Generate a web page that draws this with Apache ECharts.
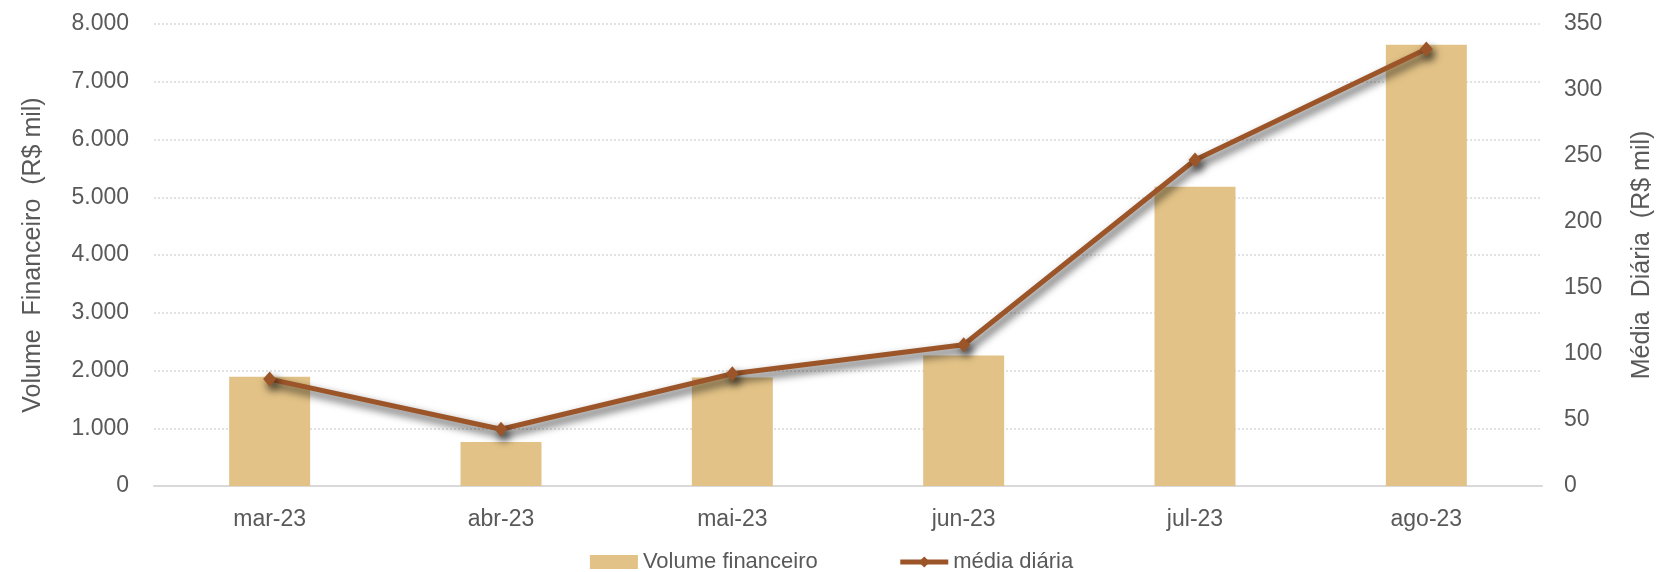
<!DOCTYPE html>
<html>
<head>
<meta charset="utf-8">
<script src="https://cdn.jsdelivr.net/npm/echarts@6/dist/echarts.min.js"></script>
<style>
  html, body { margin: 0; padding: 0; background: #ffffff; }
  #chart { width: 1663px; height: 572px; }
</style>
</head>
<body>
<div id="chart"></div>
<script>
// Monthly categories
const months = ['mar-23', 'abr-23', 'mai-23', 'jun-23', 'jul-23', 'ago-23'];
// Financial volume (R$ mil) — bars, left axis
const volumeFinanceiro = [1890, 760, 1880, 2260, 5180, 7640];
// Daily average (R$ mil) — line, right axis
const mediaDiaria = [81, 43, 85, 107, 247, 331];

// Axis ranges and steps
const leftAxis = { min: 0, max: 8000, interval: 1000 };
const rightAxis = { min: 0, max: 350, interval: 50 };

const textGray = '#595959';
const gridGray = '#d9d9d9';
const barColor = '#E2C286';
const lineColor = '#9B5528';
const baseFont = 'Liberation Sans, Arial, sans-serif';

function thousands(v) {
  return String(v).replace(/\B(?=(\d{3})+(?!\d))/g, '.');
}

const lineShadow = {
  shadowColor: 'rgba(0,0,0,0.75)',
  shadowBlur: 9,
  shadowOffsetX: 3,
  shadowOffsetY: 5
};

const chart = echarts.init(document.getElementById('chart'), null, { renderer: 'canvas' });

chart.setOption({
  animation: false,
  backgroundColor: '#ffffff',
  textStyle: { fontFamily: baseFont },
  grid: { left: 154, right: 120, top: 24, bottom: 86, containLabel: false },
  legend: {
    top: 546,
    left: 'center',
    itemGap: 80,
    itemWidth: 48,
    itemHeight: 14,
    textStyle: { color: textGray, fontSize: 22, fontFamily: baseFont },
    data: [
      { name: 'Volume financeiro', icon: 'rect' },
      {
        name: 'média diária',
        lineStyle: { width: 5, color: lineColor, shadowBlur: 0, shadowOffsetX: 0, shadowOffsetY: 0 },
        itemStyle: { color: lineColor, shadowBlur: 0, shadowOffsetX: 0, shadowOffsetY: 0 }
      }
    ]
  },
  xAxis: {
    type: 'category',
    data: months,
    axisLine: { show: true, lineStyle: { color: gridGray, width: 2 } },
    axisTick: { show: false },
    axisLabel: { color: textGray, fontSize: 23, margin: 22 },
    splitLine: { show: false }
  },
  yAxis: [
    {
      type: 'value',
      min: leftAxis.min,
      max: leftAxis.max,
      interval: leftAxis.interval,
      name: 'Volume  Financeiro  (R$ mil)',
      nameLocation: 'middle',
      nameRotate: 90,
      nameGap: 108,
      nameTextStyle: { color: textGray, fontSize: 25 },
      axisLine: { show: false },
      axisTick: { show: false },
      axisLabel: { color: textGray, fontSize: 23, margin: 25, formatter: thousands },
      splitLine: { show: true, lineStyle: { color: gridGray, type: [2, 2], width: 1.5 } }
    },
    {
      type: 'value',
      position: 'right',
      min: rightAxis.min,
      max: rightAxis.max,
      interval: rightAxis.interval,
      name: 'Média  Diária  (R$ mil)',
      nameLocation: 'middle',
      nameRotate: 90,
      nameGap: 88,
      nameTextStyle: { color: textGray, fontSize: 25 },
      axisLine: { show: false },
      axisTick: { show: false },
      axisLabel: { color: textGray, fontSize: 23, margin: 22 },
      splitLine: { show: false }
    }
  ],
  series: [
    {
      name: 'Volume financeiro',
      type: 'bar',
      yAxisIndex: 0,
      data: volumeFinanceiro,
      barWidth: '35%',
      itemStyle: { color: barColor }
    },
    {
      name: 'média diária',
      type: 'line',
      yAxisIndex: 1,
      data: mediaDiaria,
      symbol: 'diamond',
      symbolSize: [13, 15],
      lineStyle: Object.assign({ color: lineColor, width: 5 }, lineShadow),
      itemStyle: Object.assign({ color: lineColor }, lineShadow)
    }
  ]
});
</script>
</body>
</html>
